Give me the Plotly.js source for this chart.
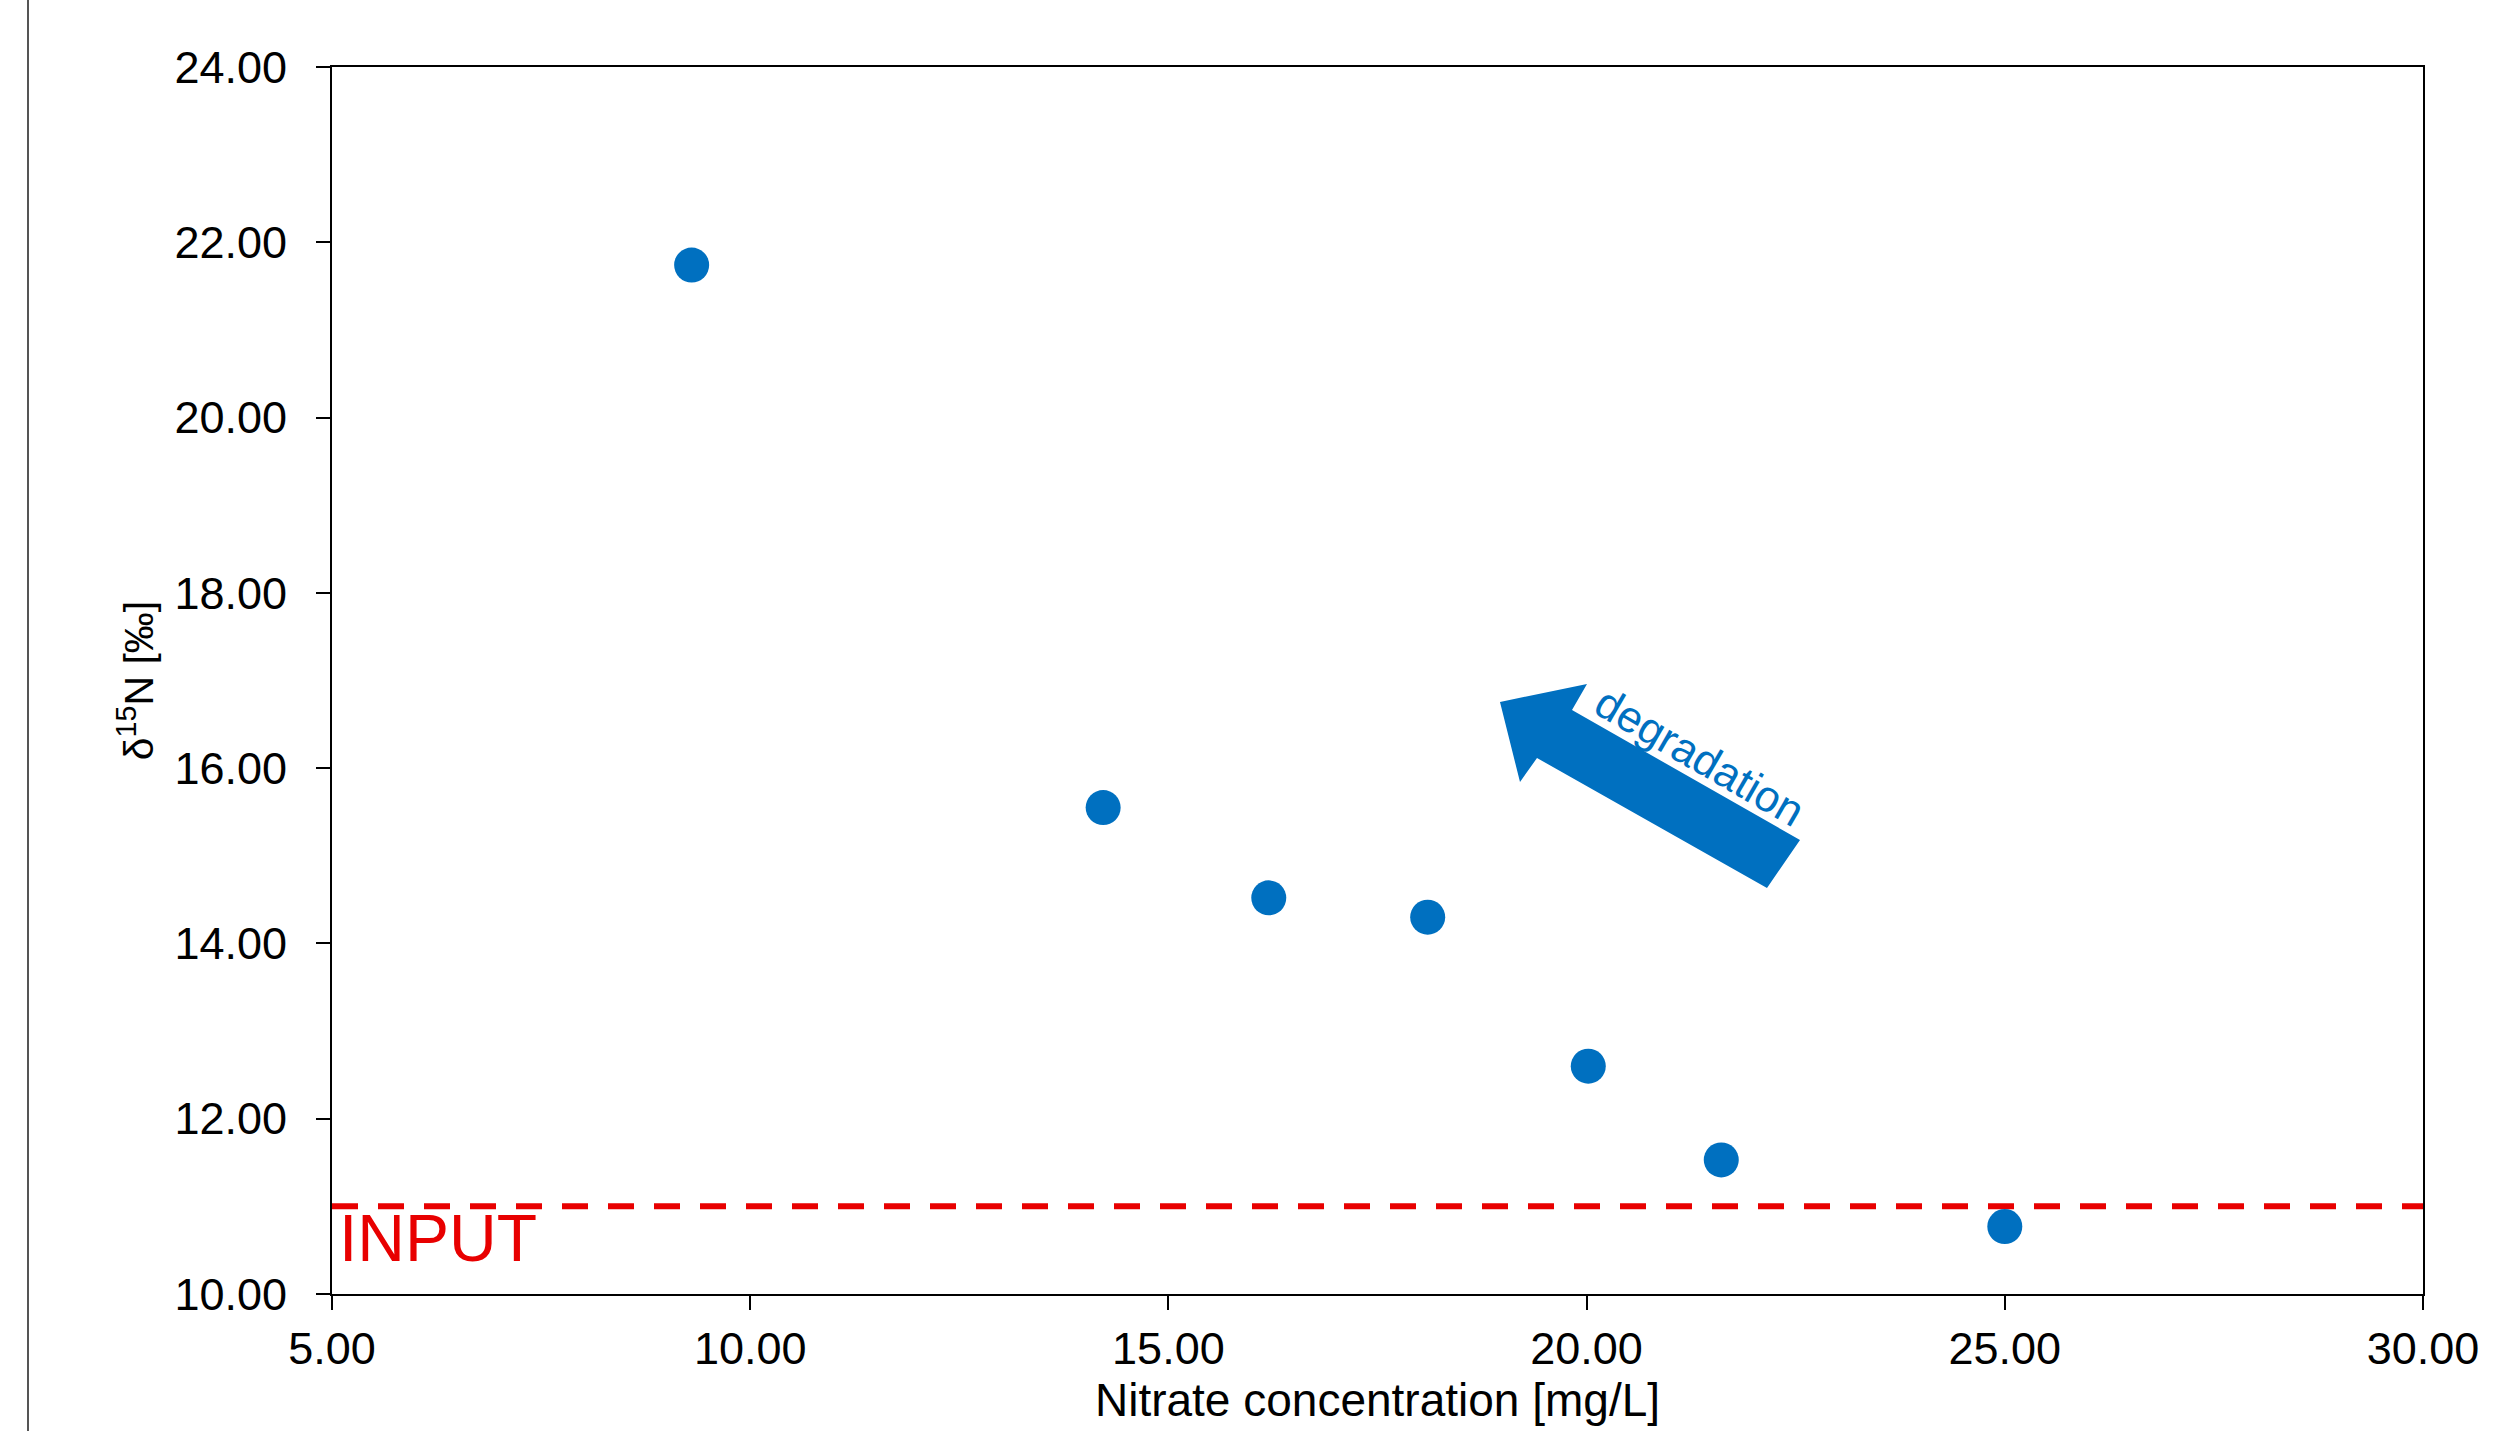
<!DOCTYPE html>
<html>
<head>
<meta charset="utf-8">
<script src="https://cdn.plot.ly/plotly-3.0.1.min.js"></script>
<style>
  html, body { margin: 0; padding: 0; background: #fff; }
  #chart { width: 2517px; height: 1431px; }
</style>
</head>
<body>
<div id="chart"></div>
<script>
// ---- Data ----
const nitrate = [9.30, 14.22, 16.20, 18.10, 20.02, 21.61, 25.00];
const delta15N = [21.74, 15.55, 14.52, 14.30, 12.60, 11.53, 10.77];
const inputLevel = 11.0;
const xTickVals = [5, 10, 15, 20, 25, 30];
const yTickVals = [10, 12, 14, 16, 18, 20, 22, 24];
const xTitle = "Nitrate concentration [mg/L]";
const yTitle = "δ<sup>15</sup>N [‰]";
const inputLabel = "INPUT";
const arrowLabel = "degradation";

// ---- Layout geometry (pixels) ----
const W = 2517, H = 1431;
const M = { l: 332, r: 94, t: 67, b: 137 };
const PW = W - M.l - M.r, PH = H - M.t - M.b;
const px = (x) => (x - M.l) / PW;          // pixel x -> paper x
const py = (y) => (M.t + PH - y) / PH;      // pixel y -> paper y
const pt = (x, y) => px(x).toFixed(5) + "," + py(y).toFixed(5);

const font = "Arial, 'Liberation Sans', sans-serif";
const blue = "#0070C0";
const red = "#E80000";

// arrow polygon (pixel corners of the block arrow)
const arrowPts = [[1500, 702], [1587, 684], [1572, 710], [1800, 840], [1767, 888], [1537, 758], [1520, 782]];
const arrowPath = "M" + arrowPts.map(p => pt(p[0], p[1])).join(" L") + " Z";

const traces = [{
  x: nitrate,
  y: delta15N,
  type: "scatter",
  mode: "markers",
  marker: { color: blue, size: 35, line: { width: 0 } },
  hoverinfo: "x+y",
  showlegend: false
}];

const axisCommon = {
  showline: true, linecolor: "#000", linewidth: 2, mirror: true,
  ticks: "outside", ticklen: 14, tickwidth: 2, tickcolor: "#000",
  showgrid: false, zeroline: false,
  tickformat: ".2f",
  tickfont: { family: font, size: 45, color: "#000" }
};

const layout = {
  width: W, height: H,
  margin: M,
  paper_bgcolor: "#fff", plot_bgcolor: "#fff",
  showlegend: false,
  xaxis: Object.assign({}, axisCommon, {
    range: [5, 30], tickvals: xTickVals, ticklabelstandoff: 0,
    title: { text: xTitle, font: { family: font, size: 46, color: "#000" }, standoff: 4 }
  }),
  yaxis: Object.assign({}, axisCommon, {
    range: [10, 24], tickvals: yTickVals, ticklabelstandoff: 20,
    title: { text: yTitle, font: { family: font, size: 41, color: "#000" }, standoff: 8 }
  }),
  shapes: [
    { type: "line", xref: "paper", yref: "y", x0: 0, x1: 1, y0: inputLevel, y1: inputLevel,
      line: { color: red, width: 6, dash: "26px,20px" }, layer: "below" },
    { type: "path", xref: "paper", yref: "paper", path: arrowPath,
      fillcolor: blue, line: { width: 0 } },
    { type: "line", xref: "paper", yref: "paper", x0: px(28), x1: px(28), y0: py(H), y1: py(0),
      line: { color: "#555", width: 2 } }
  ],
  annotations: [
    { xref: "paper", yref: "paper", x: px(337), y: py(1238), xanchor: "left", yanchor: "middle",
      text: inputLabel, showarrow: false, font: { family: font, size: 66, color: red } },
    { xref: "paper", yref: "paper", x: px(1700), y: py(756), xanchor: "center", yanchor: "middle",
      text: arrowLabel, showarrow: false, textangle: 30, font: { family: font, size: 44, color: blue } }
  ]
};

Plotly.newPlot("chart", traces, layout, { displayModeBar: false, staticPlot: true });
</script>
</body>
</html>
